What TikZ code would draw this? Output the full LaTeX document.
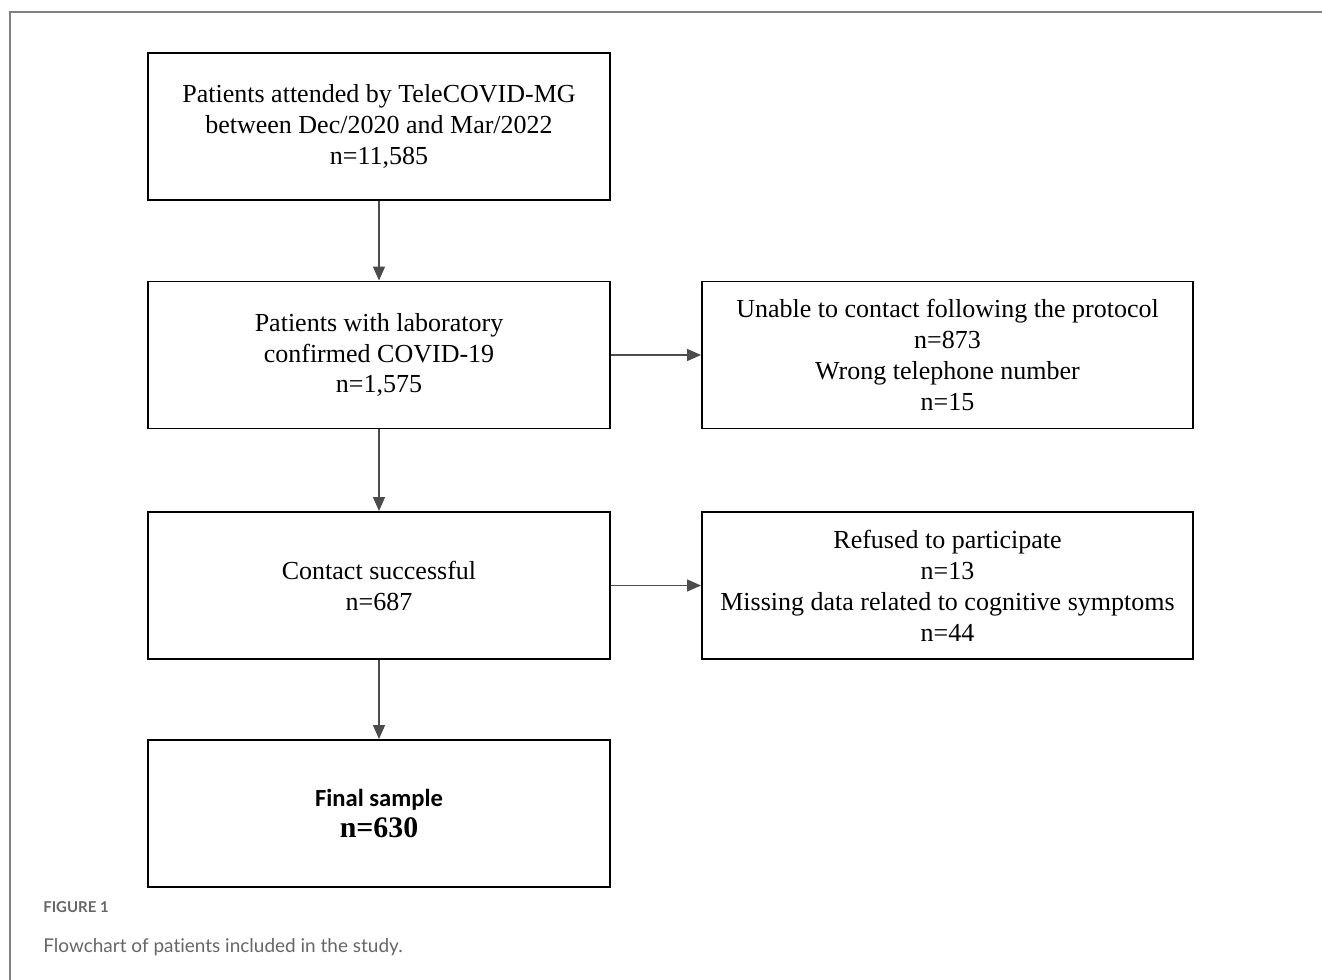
\documentclass[tikz,border=0pt]{standalone}
\usepackage{fontspec}
\setmainfont{Liberation Serif}
\newfontfamily\calibfont{Carlito}
\newfontfamily\capfont[Ligatures=NoCommon]{Lato}
\usetikzlibrary{arrows.meta, positioning}
\tikzset{%
  block/.style={rectangle, draw, line width=1.1pt, minimum width=9.24cm, minimum height=2.94cm, align=center, font=\fontsize{14.8}{17.6}\selectfont},
  sideblock/.style={block, minimum width=9.82cm},
  line/.style={draw, -{Triangle[length=0.28cm, width=0.24cm]}, line width=0.8pt, black!70},
  frame/.style={draw=black!50, line width=1pt},
  caption/.style={anchor=west, inner sep=0pt, text=black!60}}

\begin{document}
\begin{tikzpicture}
    \useasboundingbox (0, 0) rectangle (26.44, -19.6);
    \draw [frame] (26.44, -0.24) -- (0.2, -0.24) -- (0.2, -19.6);

    \node [block] (attended) at (7.58, -2.53) {Patients attended by TeleCOVID-MG\\between Dec/2020 and Mar/2022\\n=11,585};
    \node [block] (confirmed) at (7.58, -7.10) {Patients with laboratory\\confirmed COVID-19\\n=1,575};
    \node [block] (successful) at (7.58, -11.71) {Contact successful\\n=687};
    \node [block] (final) at (7.58, -16.27) {{\calibfont\bfseries\fontsize{14}{17.6}\selectfont Final sample}\\{\bfseries\fontsize{17}{17.6}\selectfont n=630}};

    \node [sideblock] (unable) at (18.95, -7.10) {Unable to contact following the protocol\\n=873\\Wrong telephone number\\n=15};
    \node [sideblock] (refused) at (18.95, -11.71) {Refused to participate\\n=13\\Missing data related to cognitive symptoms\\n=44};

    \path [line] (attended) -- (confirmed);
    \path [line] (confirmed) -- (successful);
    \path [line] (successful) -- (final);
    \path [line] (confirmed) -- (unable);
    \path [line] (successful) -- (refused);

    \node [caption, font=\capfont\bfseries\fontsize{8.5}{10}\selectfont] (fignum) at (0.86, -18.14) {FIGURE 1};
    \node [caption, font=\capfont\fontsize{10.8}{12}\selectfont] (figtext) at (0.86, -18.94) {Flowchart of patients included in the study.};
\end{tikzpicture}
\end{document}
